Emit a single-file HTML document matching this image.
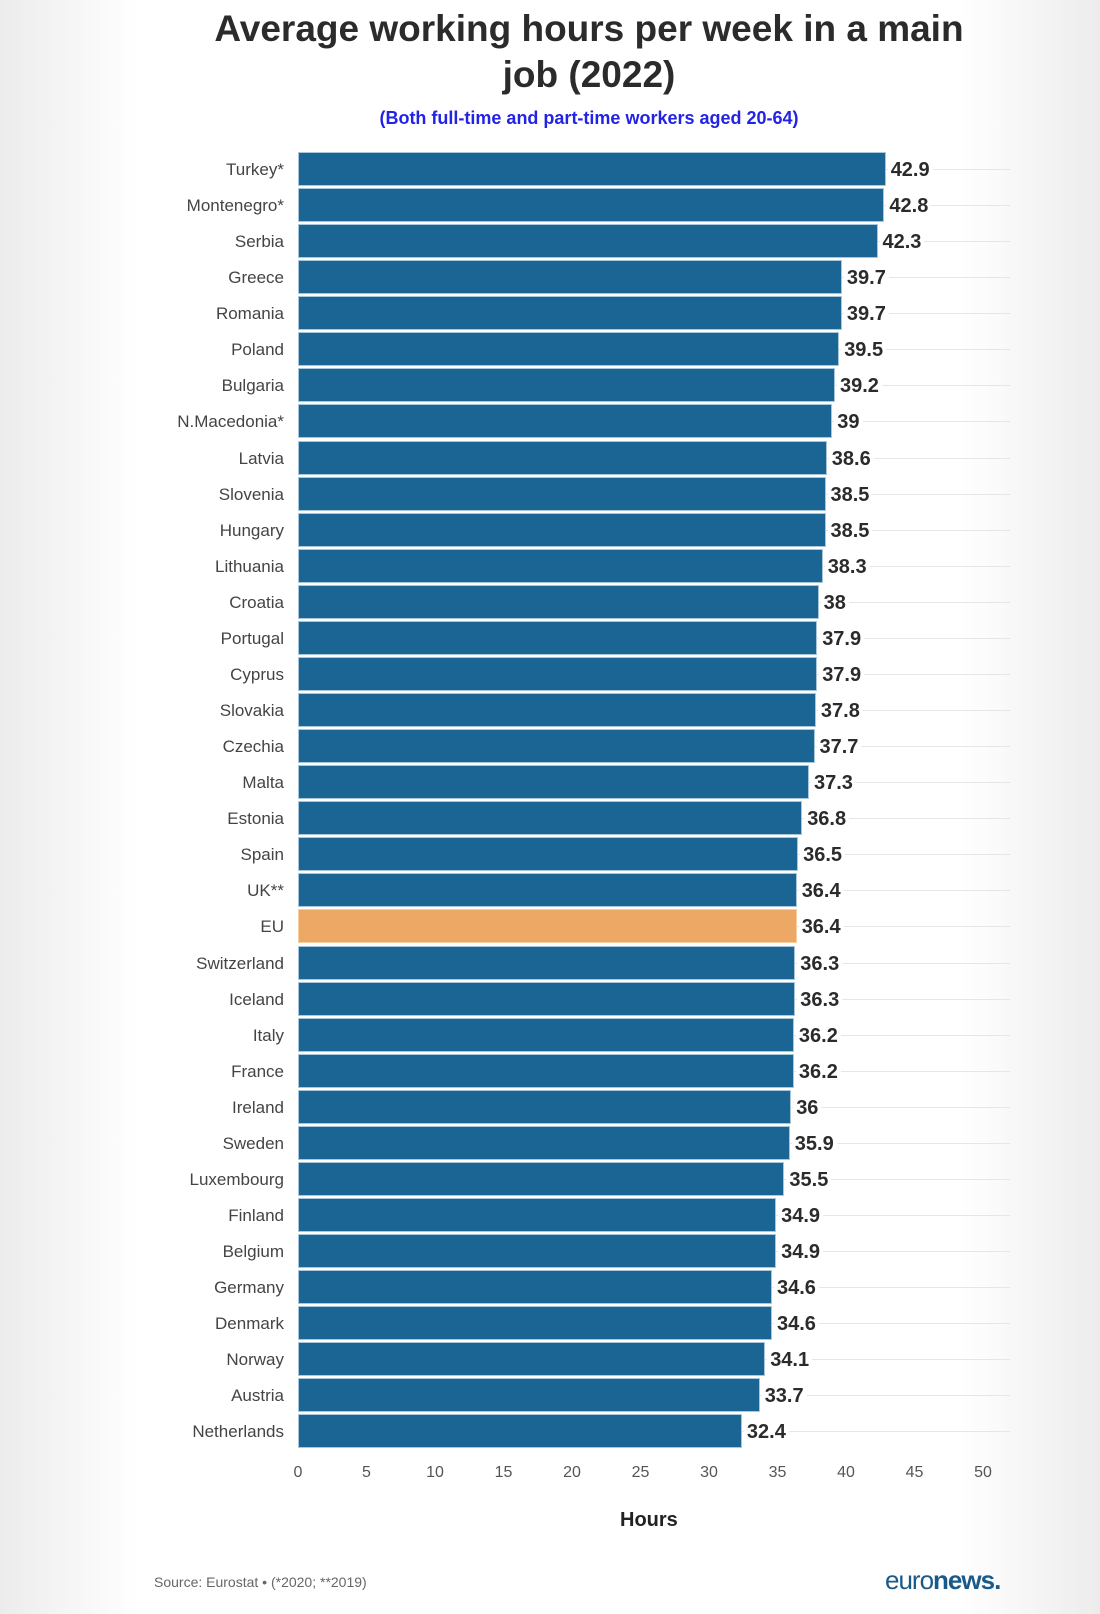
<!DOCTYPE html>
<html><head><meta charset="utf-8"><style>
body{margin:0;width:1100px;height:1614px;overflow:hidden;background:linear-gradient(90deg,#ececec 0,#fff 140px,#fff 960px,#ececec 1100px);font-family:"Liberation Sans",sans-serif;position:relative}
.t{position:absolute;left:0;width:1100px;text-align:center;color:#2b2b2b}
.r{position:absolute;left:0;width:1100px;height:36.07px}
.r .g{position:absolute;left:298px;width:712px;top:17px;height:1px;background:#e6e6e6}
.r .l{position:absolute;right:816px;top:8px;font-size:17px;color:#444;white-space:nowrap}
.r .b{position:absolute;left:298px;top:0;height:34px;background:#1a6593;box-shadow:0 0 0 1px #a9c7da inset}
.r .b.eu{background:#eda866;box-shadow:0 0 0 1px #f6cfa0 inset}
.r .v{position:absolute;top:7px;font-size:20px;font-weight:bold;color:#2b2b2b;background:#fff;padding:0 3px}
.tk{position:absolute;top:1464px;font-size:16px;color:#555;width:40px;margin-left:-20px;text-align:center}
</style></head><body>
<div class="t" style="top:6px;font-size:37px;font-weight:bold;line-height:46px;left:589px;width:780px;margin-left:-390px">Average working hours per week in a main job (2022)</div>
<div class="t" style="top:108px;font-size:18px;font-weight:bold;color:#2323e6;left:589px;width:700px;margin-left:-350px">(Both full-time and part-time workers aged 20-64)</div>

<div class="r" style="top:152px"><div class="g"></div><div class="l">Turkey*</div><div class="b" style="width:587.7px"></div><div class="v" style="left:887.7px">42.9</div></div>
<div class="r" style="top:188.07px"><div class="g"></div><div class="l">Montenegro*</div><div class="b" style="width:586.4px"></div><div class="v" style="left:886.4px">42.8</div></div>
<div class="r" style="top:224.14px"><div class="g"></div><div class="l">Serbia</div><div class="b" style="width:579.5px"></div><div class="v" style="left:879.5px">42.3</div></div>
<div class="r" style="top:260.21px"><div class="g"></div><div class="l">Greece</div><div class="b" style="width:543.9px"></div><div class="v" style="left:843.9px">39.7</div></div>
<div class="r" style="top:296.28px"><div class="g"></div><div class="l">Romania</div><div class="b" style="width:543.9px"></div><div class="v" style="left:843.9px">39.7</div></div>
<div class="r" style="top:332.35px"><div class="g"></div><div class="l">Poland</div><div class="b" style="width:541.2px"></div><div class="v" style="left:841.2px">39.5</div></div>
<div class="r" style="top:368.42px"><div class="g"></div><div class="l">Bulgaria</div><div class="b" style="width:537px"></div><div class="v" style="left:837px">39.2</div></div>
<div class="r" style="top:404.49px"><div class="g"></div><div class="l">N.Macedonia*</div><div class="b" style="width:534.3px"></div><div class="v" style="left:834.3px">39</div></div>
<div class="r" style="top:440.56px"><div class="g"></div><div class="l">Latvia</div><div class="b" style="width:528.8px"></div><div class="v" style="left:828.8px">38.6</div></div>
<div class="r" style="top:476.63px"><div class="g"></div><div class="l">Slovenia</div><div class="b" style="width:527.5px"></div><div class="v" style="left:827.5px">38.5</div></div>
<div class="r" style="top:512.7px"><div class="g"></div><div class="l">Hungary</div><div class="b" style="width:527.5px"></div><div class="v" style="left:827.5px">38.5</div></div>
<div class="r" style="top:548.77px"><div class="g"></div><div class="l">Lithuania</div><div class="b" style="width:524.7px"></div><div class="v" style="left:824.7px">38.3</div></div>
<div class="r" style="top:584.84px"><div class="g"></div><div class="l">Croatia</div><div class="b" style="width:520.6px"></div><div class="v" style="left:820.6px">38</div></div>
<div class="r" style="top:620.91px"><div class="g"></div><div class="l">Portugal</div><div class="b" style="width:519.2px"></div><div class="v" style="left:819.2px">37.9</div></div>
<div class="r" style="top:656.98px"><div class="g"></div><div class="l">Cyprus</div><div class="b" style="width:519.2px"></div><div class="v" style="left:819.2px">37.9</div></div>
<div class="r" style="top:693.05px"><div class="g"></div><div class="l">Slovakia</div><div class="b" style="width:517.9px"></div><div class="v" style="left:817.9px">37.8</div></div>
<div class="r" style="top:729.12px"><div class="g"></div><div class="l">Czechia</div><div class="b" style="width:516.5px"></div><div class="v" style="left:816.5px">37.7</div></div>
<div class="r" style="top:765.19px"><div class="g"></div><div class="l">Malta</div><div class="b" style="width:511px"></div><div class="v" style="left:811px">37.3</div></div>
<div class="r" style="top:801.26px"><div class="g"></div><div class="l">Estonia</div><div class="b" style="width:504.2px"></div><div class="v" style="left:804.2px">36.8</div></div>
<div class="r" style="top:837.33px"><div class="g"></div><div class="l">Spain</div><div class="b" style="width:500.1px"></div><div class="v" style="left:800.1px">36.5</div></div>
<div class="r" style="top:873.4px"><div class="g"></div><div class="l">UK**</div><div class="b" style="width:498.7px"></div><div class="v" style="left:798.7px">36.4</div></div>
<div class="r" style="top:909.47px"><div class="g"></div><div class="l">EU</div><div class="b eu" style="width:498.7px"></div><div class="v" style="left:798.7px">36.4</div></div>
<div class="r" style="top:945.54px"><div class="g"></div><div class="l">Switzerland</div><div class="b" style="width:497.3px"></div><div class="v" style="left:797.3px">36.3</div></div>
<div class="r" style="top:981.61px"><div class="g"></div><div class="l">Iceland</div><div class="b" style="width:497.3px"></div><div class="v" style="left:797.3px">36.3</div></div>
<div class="r" style="top:1017.68px"><div class="g"></div><div class="l">Italy</div><div class="b" style="width:495.9px"></div><div class="v" style="left:795.9px">36.2</div></div>
<div class="r" style="top:1053.75px"><div class="g"></div><div class="l">France</div><div class="b" style="width:495.9px"></div><div class="v" style="left:795.9px">36.2</div></div>
<div class="r" style="top:1089.82px"><div class="g"></div><div class="l">Ireland</div><div class="b" style="width:493.2px"></div><div class="v" style="left:793.2px">36</div></div>
<div class="r" style="top:1125.89px"><div class="g"></div><div class="l">Sweden</div><div class="b" style="width:491.8px"></div><div class="v" style="left:791.8px">35.9</div></div>
<div class="r" style="top:1161.96px"><div class="g"></div><div class="l">Luxembourg</div><div class="b" style="width:486.4px"></div><div class="v" style="left:786.4px">35.5</div></div>
<div class="r" style="top:1198.03px"><div class="g"></div><div class="l">Finland</div><div class="b" style="width:478.1px"></div><div class="v" style="left:778.1px">34.9</div></div>
<div class="r" style="top:1234.1px"><div class="g"></div><div class="l">Belgium</div><div class="b" style="width:478.1px"></div><div class="v" style="left:778.1px">34.9</div></div>
<div class="r" style="top:1270.17px"><div class="g"></div><div class="l">Germany</div><div class="b" style="width:474px"></div><div class="v" style="left:774px">34.6</div></div>
<div class="r" style="top:1306.24px"><div class="g"></div><div class="l">Denmark</div><div class="b" style="width:474px"></div><div class="v" style="left:774px">34.6</div></div>
<div class="r" style="top:1342.31px"><div class="g"></div><div class="l">Norway</div><div class="b" style="width:467.2px"></div><div class="v" style="left:767.2px">34.1</div></div>
<div class="r" style="top:1378.38px"><div class="g"></div><div class="l">Austria</div><div class="b" style="width:461.7px"></div><div class="v" style="left:761.7px">33.7</div></div>
<div class="r" style="top:1414.45px"><div class="g"></div><div class="l">Netherlands</div><div class="b" style="width:443.9px"></div><div class="v" style="left:743.9px">32.4</div></div>

<div class="tk" style="left:298px">0</div><div class="tk" style="left:366.5px">5</div><div class="tk" style="left:435px">10</div><div class="tk" style="left:503.5px">15</div><div class="tk" style="left:572px">20</div><div class="tk" style="left:640.5px">25</div><div class="tk" style="left:709px">30</div><div class="tk" style="left:777.5px">35</div><div class="tk" style="left:846px">40</div><div class="tk" style="left:914.5px">45</div><div class="tk" style="left:983px">50</div>
<div style="position:absolute;left:620px;top:1509px;font-size:20px;font-weight:bold;color:#222">Hours</div>
<div style="position:absolute;left:154px;top:1574px;font-size:14px;color:#666">Source: Eurostat • (*2020; **2019)</div>
<div style="position:absolute;left:885px;top:1565px;font-size:26px;color:#1a5a8a;letter-spacing:-1px">euro<b>news.</b></div>
</body></html>
